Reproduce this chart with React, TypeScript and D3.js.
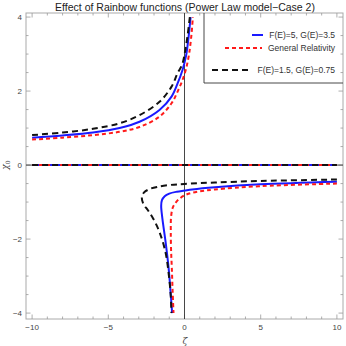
import * as d3 from "d3";
import { useRef, useEffect } from "react";

// values: [zeta, chi0]
const blueUpper: [number, number][] = [
  [-10, 0.74], [-8, 0.8], [-6, 0.88], [-4.26, 1.0], [-2.95, 1.17], [-1.64, 1.49],
  [-0.85, 1.85], [-0.46, 2.2], [-0.13, 2.57], [0.1, 2.95], [0.25, 3.4], [0.4, 4.0],
];
const blueLower: [number, number][] = [
  [10, -0.45], [5, -0.52], [2, -0.6], [0.5, -0.66], [0, -0.69], [-0.5, -0.72],
  [-1.0, -0.77], [-1.3, -0.84], [-1.48, -0.95], [-1.53, -1.1], [-1.45, -1.45],
  [-1.25, -2.05], [-1.05, -2.75], [-0.92, -3.4], [-0.81, -4.0],
];
const redUpper: [number, number][] = [
  [-10, 0.69], [-8, 0.74], [-6, 0.81], [-4.26, 0.9], [-2.95, 1.03], [-1.64, 1.31],
  [-0.85, 1.67], [-0.46, 1.98], [-0.13, 2.3], [0.1, 2.6], [0.3, 3.0], [0.45, 3.5], [0.55, 4.0],
];
const redLower: [number, number][] = [
  [10, -0.5], [5, -0.57], [2, -0.66], [1, -0.71], [0.3, -0.77], [0, -0.82],
  [-0.3, -0.9], [-0.55, -1.0], [-0.77, -1.15], [-0.88, -1.4], [-0.9, -1.8],
  [-0.88, -2.3], [-0.83, -2.8], [-0.78, -3.4], [-0.72, -4.0],
];
const blackUpper: [number, number][] = [
  [-10, 0.81], [-8, 0.88], [-6, 0.98], [-4.26, 1.13], [-2.95, 1.35], [-1.64, 1.71],
  [-0.85, 2.12], [-0.46, 2.48], [-0.15, 2.72], [0.05, 3.1], [0.2, 3.5], [0.35, 4.0],
];
const blackLower: [number, number][] = [
  [10, -0.39], [5, -0.43], [2, -0.47], [0, -0.51], [-1, -0.54], [-1.8, -0.59],
  [-2.3, -0.65], [-2.65, -0.74], [-2.8, -0.87], [-2.7, -1.05], [-2.4, -1.22],
  [-2.05, -1.45], [-1.65, -1.8], [-1.25, -2.35], [-1.02, -3.0], [-0.9, -3.55], [-0.86, -4.0],
];
const zeroBranch: [number, number][] = [[-10, 0], [10, 0]];

const seriesNames = ["F(E)=5, G(E)=3.5", "General Relativity", "F(E)=1.5, G(E)=0.75"];
const xTicks = [-10, -5, 0, 5, 10];
const yTicks = [-4, -2, 0, 2, 4];

export default function App() {
  const svgRef = useRef<SVGSVGElement>(null);

  const width = 346;
  const height = 346;
  const left = 26, right = 343, top = 13, bottom = 319;

  useEffect(() => {
    const svg = d3.select(svgRef.current);
    svg.selectAll("*").remove();

    const x = d3.scaleLinear().domain([-10.4, 10.4]).range([left, right]);
    const y = d3.scaleLinear().domain([-4.16, 4.11]).range([bottom, top]);

    svg.append("defs").append("clipPath").attr("id", "plotclip")
      .append("rect").attr("x", left).attr("y", top)
      .attr("width", right - left).attr("height", bottom - top);

    // title
    svg.append("text")
      .attr("x", 185).attr("y", 10.5)
      .attr("text-anchor", "middle")
      .style("font-family", "Liberation Sans, Arial, sans-serif")
      .style("font-size", "10.5px")
      .attr("fill", "#222")
      .text("Effect of Rainbow functions (Power Law model\u2212Case 2)");

    // frame
    svg.append("rect")
      .attr("x", left).attr("y", top)
      .attr("width", right - left).attr("height", bottom - top)
      .attr("fill", "none").attr("stroke", "#aaa").attr("stroke-width", 1);

    const tickColor = "#999";
    const xMinor = d3.range(-10, 11, 1);
    const yMinor = d3.range(-4, 4.01, 0.5);

    const tk = svg.append("g").attr("stroke", tickColor).attr("stroke-width", 0.8);
    xMinor.forEach((v) => {
      const len = xTicks.includes(v) ? 4.5 : 2.5;
      tk.append("line").attr("x1", x(v)).attr("x2", x(v)).attr("y1", bottom).attr("y2", bottom - len);
      tk.append("line").attr("x1", x(v)).attr("x2", x(v)).attr("y1", top).attr("y2", top + len);
    });
    yMinor.forEach((v) => {
      const len = yTicks.includes(v) ? 4.5 : 2.5;
      tk.append("line").attr("x1", left).attr("x2", left + len).attr("y1", y(v)).attr("y2", y(v));
      tk.append("line").attr("x1", right).attr("x2", right - len).attr("y1", y(v)).attr("y2", y(v));
    });

    const lab = svg.append("g")
      .style("font-family", "Liberation Sans, Arial, sans-serif")
      .style("font-size", "8px")
      .attr("fill", "#444");
    xTicks.forEach((v) => {
      lab.append("text").attr("x", x(v)).attr("y", bottom + 11)
        .attr("text-anchor", "middle")
        .text(v < 0 ? "\u2212" + Math.abs(v) : String(v));
    });
    yTicks.forEach((v) => {
      lab.append("text").attr("x", left - 4).attr("y", y(v) + 3)
        .attr("text-anchor", "end")
        .text(v < 0 ? "\u2212" + Math.abs(v) : String(v));
    });

    // axis titles
    svg.append("text")
      .attr("x", 185).attr("y", 344)
      .attr("text-anchor", "middle")
      .style("font-family", "DejaVu Serif, serif")
      .style("font-style", "italic")
      .style("font-size", "9px")
      .attr("fill", "#444")
      .text("\u03b6");
    const yl = svg.append("text")
      .attr("transform", "translate(8,165) rotate(-90)")
      .attr("text-anchor", "middle")
      .style("font-family", "DejaVu Serif, serif")
      .style("font-style", "italic")
      .style("font-size", "9px")
      .attr("fill", "#444");
    yl.append("tspan").text("\u03c7");
    yl.append("tspan").attr("dy", 2).style("font-size", "6px").style("font-style", "normal").text("0");

    // origin axes
    svg.append("line").attr("x1", x(0)).attr("x2", x(0)).attr("y1", top).attr("y2", bottom)
      .attr("stroke", "#333").attr("stroke-width", 0.9);
    svg.append("line").attr("x1", left).attr("x2", right).attr("y1", y(0)).attr("y2", y(0))
      .attr("stroke", "#333").attr("stroke-width", 0.9);

    const line = d3.line<[number, number]>()
      .x((d) => x(d[0]))
      .y((d) => y(d[1]))
      .curve(d3.curveCatmullRom.alpha(0.5));

    const plot = svg.append("g").attr("clip-path", "url(#plotclip)").attr("fill", "none");

    const styles = [
      { color: "#1a1aff", dash: null as string | null, data: [blueUpper, blueLower, zeroBranch] },
      { color: "#ff1a1a", dash: "4,3", data: [redUpper, redLower, zeroBranch] },
      { color: "#111", dash: "6,4", data: [blackUpper, blackLower, zeroBranch] },
    ];
    styles.forEach((s) => {
      s.data.forEach((d) => {
        plot.append("path")
          .datum(d)
          .attr("d", line)
          .attr("stroke", s.color)
          .attr("stroke-width", 2)
          .attr("stroke-dasharray", s.dash)
          .attr("stroke-linejoin", "round");
      });
    });

    // legend box
    svg.append("line").attr("x1", 204).attr("x2", 204).attr("y1", top).attr("y2", 83)
      .attr("stroke", "#333").attr("stroke-width", 0.9);
    svg.append("line").attr("x1", 204).attr("x2", right).attr("y1", 83).attr("y2", 83)
      .attr("stroke", "#333").attr("stroke-width", 0.9);

    const legendRows = [
      { y: 35, x1: 252, x2: 263 },
      { y: 48, x1: 225, x2: 262 },
      { y: 70, x1: 212, x2: 250 },
    ];
    seriesNames.forEach((name, i) => {
      const r = legendRows[i];
      svg.append("line")
        .attr("x1", r.x1).attr("x2", r.x2).attr("y1", r.y).attr("y2", r.y)
        .attr("stroke", styles[i].color).attr("stroke-width", 2)
        .attr("stroke-dasharray", styles[i].dash);
      svg.append("text")
        .attr("x", 335).attr("y", r.y + 3)
        .attr("text-anchor", "end")
        .style("font-family", "Liberation Sans, Arial, sans-serif")
        .style("font-size", "8.5px")
        .attr("fill", "#333")
        .text(name);
    });
  }, []);

  return (
    <svg
      ref={svgRef}
      width={width}
      height={height}
      style={{ position: "absolute", left: 0, top: 0, background: "#fff" }}
    />
  );
}
